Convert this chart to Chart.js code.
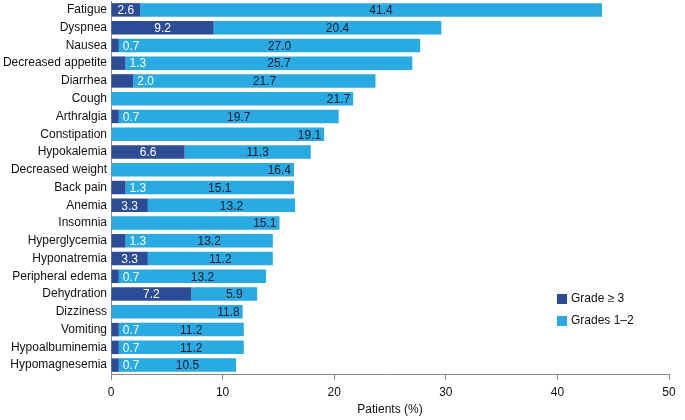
<!DOCTYPE html>
<html>
<head>
<meta charset="utf-8">
<script src="https://cdn.jsdelivr.net/npm/chart.js@4/dist/chart.umd.min.js"></script>
<style>
  html, body { margin: 0; padding: 0; background: #fff; }
  #wrap { width: 685px; height: 420px; }
</style>
</head>
<body>
<div id="wrap"><canvas id="myChart" width="685" height="420"></canvas></div>
<script>
// Adverse events, % of patients
const categories = ['Fatigue', 'Dyspnea', 'Nausea', 'Decreased appetite', 'Diarrhea', 'Cough',
    'Arthralgia', 'Constipation', 'Hypokalemia', 'Decreased weight', 'Back pain', 'Anemia',
    'Insomnia', 'Hyperglycemia', 'Hyponatremia', 'Peripheral edema', 'Dehydration', 'Dizziness',
    'Vomiting', 'Hypoalbuminemia', 'Hypomagnesemia'];
const grade3 = [2.6, 9.2, 0.7, 1.3, 2.0, 0, 0.7, 0, 6.6, 0, 1.3, 3.3, 0, 1.3, 3.3, 0.7, 7.2, 0, 0.7, 0.7, 0.7];
const grade12 = [41.4, 20.4, 27.0, 25.7, 21.7, 21.7, 19.7, 19.1, 11.3, 16.4, 15.1, 13.2, 15.1, 13.2, 11.2, 13.2, 5.9, 11.8, 11.2, 11.2, 10.5];
const xTicks = [0, 10, 20, 30, 40, 50];

const darkBlue = '#2c4d95';
const lightBlue = '#2aaae2';
const fontFamily = '"Liberation Sans", Arial, Helvetica, sans-serif';

// value labels drawn on the bars
const barLabels = {
    id: 'barLabels',
    afterDatasetsDraw(chart) {
        const ctx = chart.ctx;
        ctx.save();
        ctx.font = '12px ' + fontFamily;
        ctx.textBaseline = 'middle';
        const dark = chart.getDatasetMeta(0).data;
        const light = chart.getDatasetMeta(1).data;
        dark.forEach((bar, i) => {
            const v = grade3[i];
            if (!v) return;
            ctx.fillStyle = '#ffffff';
            if (v >= 2.5) {
                ctx.textAlign = 'center';
                ctx.fillText(v.toFixed(1), (bar.base + bar.x) / 2, bar.y + 1);
            } else {
                ctx.textAlign = 'left';
                ctx.fillText(v.toFixed(1), bar.x + 4, bar.y + 1);
            }
        });
        light.forEach((bar, i) => {
            const txt = grade12[i].toFixed(1);
            const w = ctx.measureText(txt).width;
            ctx.fillStyle = '#161a26';
            ctx.textAlign = 'center';
            let cx;
            if (!grade3[i]) {
                cx = bar.x - 3 - w / 2;
            } else {
                cx = Math.min((bar.base + bar.x) / 2 + 10, bar.x - 4 - w / 2);
            }
            ctx.fillText(txt, cx, bar.y + 1);
        });
        ctx.restore();
    }
};

// legend in the lower right of the plot
const boxLegend = {
    id: 'boxLegend',
    afterDraw(chart) {
        const ctx = chart.ctx;
        const items = [['Grade \u2265 3', darkBlue], ['Grades 1\u20132', lightBlue]];
        ctx.save();
        ctx.font = '12px ' + fontFamily;
        ctx.textBaseline = 'middle';
        ctx.textAlign = 'left';
        items.forEach((it, k) => {
            const y = 299 + k * 22;
            ctx.fillStyle = it[1];
            ctx.fillRect(557, y - 5, 10, 10);
            ctx.fillStyle = '#111';
            ctx.fillText(it[0], 571, y);
        });
        ctx.restore();
    }
};

const ctx = document.getElementById('myChart').getContext('2d');
const myChart = new Chart(ctx, {
    type: 'bar',
    data: {
        labels: categories,
        datasets: [{
            label: 'Grade \u2265 3',
            data: grade3,
            backgroundColor: darkBlue,
            borderWidth: 0,
            barPercentage: 0.95,
            categoryPercentage: 0.8
        }, {
            label: 'Grades 1\u20132',
            data: grade12,
            backgroundColor: lightBlue,
            borderWidth: 0,
            barPercentage: 0.95,
            categoryPercentage: 0.8
        }]
    },
    options: {
        indexAxis: 'y',
        responsive: false,
        animation: false,
        layout: { padding: { top: 1, right: 16, left: 0, bottom: 0 } },
        plugins: {
            legend: { display: false },
            tooltip: { enabled: false }
        },
        scales: {
            x: {
                stacked: true,
                min: 0,
                max: 50,
                afterBuildTicks(scale) {
                    scale.ticks = xTicks.map(v => ({ value: v }));
                },
                afterFit(scale) { scale.height = 46; },
                grid: {
                    display: true,
                    drawOnChartArea: false,
                    drawTicks: true,
                    tickLength: 6,
                    color: '#8a8a8a'
                },
                border: { display: true, color: '#8a8a8a', width: 1 },
                ticks: {
                    color: '#111',
                    font: { size: 12, family: fontFamily },
                    padding: 5
                },
                title: {
                    display: true,
                    text: 'Patients (%)',
                    color: '#111',
                    font: { size: 12, family: fontFamily },
                    padding: { top: 3, bottom: 3 }
                }
            },
            y: {
                stacked: true,
                afterFit(scale) {
                    scale.width = 111;
                    scale.paddingTop = 0;
                    scale.paddingBottom = 0;
                },
                grid: { display: false, drawTicks: false },
                border: { display: true, color: '#8a8a8a', width: 1 },
                ticks: {
                    color: '#111',
                    font: { size: 12, family: fontFamily },
                    padding: 4,
                    autoSkip: false
                }
            }
        }
    },
    plugins: [barLabels, boxLegend]
});
</script>
</body>
</html>
